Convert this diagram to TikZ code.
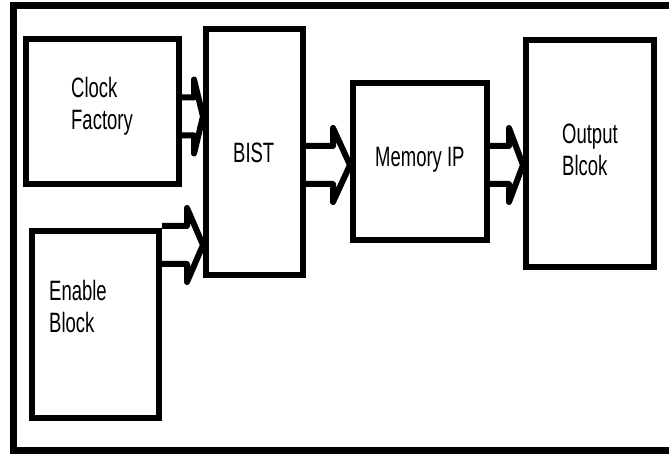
\documentclass[tikz,border=0pt]{standalone}
\usepackage{fontspec}
\newfontfamily\diagfont[FakeStretch=0.66]{Liberation Sans}
\usetikzlibrary{calc}

% block arrow: from node, to node, shaft y, shaft length
\newcommand{\fatarrow}[4]{%
  \draw[fat] ($(#1.east |- 0,#3)+(0,-19)$) -- ++(#4,0) -- ++(0,-18)
    -- (#2.west |- 0,#3) -- ($(#1.east |- 0,#3)+(#4,37)$) -- ++(0,-18)
    -- ($(#1.east |- 0,#3)+(0,19)$);%
}

\begin{document}
\begin{tikzpicture}[
x=1pt, y=-1pt,
blk/.style={draw, line width=6pt, inner sep=0pt},
txt/.style={font=\diagfont\fontsize{28}{32}\selectfont, align=left, inner sep=0pt, anchor=north west},
fat/.style={draw, line width=6pt, line join=round}
]
\clip (0,0) rectangle (669,454);
\fill[white] (0,0) rectangle (669,454);
\draw[line width=7pt] (13,6) rectangle (700,450);

% blocks
\node[blk, minimum width=153pt, minimum height=145pt] (clk) at (102.5,111.5) {};
\node[blk, minimum width=97pt, minimum height=246pt] (bist) at (254.5,152) {};
\node[blk, minimum width=127pt, minimum height=187pt] (enbl) at (95.5,324.5) {};
\node[blk, minimum width=134pt, minimum height=157pt] (mem) at (420,161.5) {};
\node[blk, minimum width=128pt, minimum height=227pt] (outb) at (590,153.5) {};

% labels
\node[txt] (clktxt) at (71,77) {Clock\\Factory};
\node[txt] (bisttxt) at (233,143) {BIST};
\node[txt] (memtxt) at (375,147) {Memory IP};
\node[txt] (outtxt) at (562,124) {Output\\Blcok};
\node[txt] (enbltxt) at (49,280) {Enable\\Block};

% connectors
\fatarrow{clk}{bist}{116.5}{12}
\fatarrow{enbl}{bist}{245}{25}
\fatarrow{bist}{mem}{165}{27}
\fatarrow{mem}{outb}{165}{19}
\end{tikzpicture}
\end{document}
